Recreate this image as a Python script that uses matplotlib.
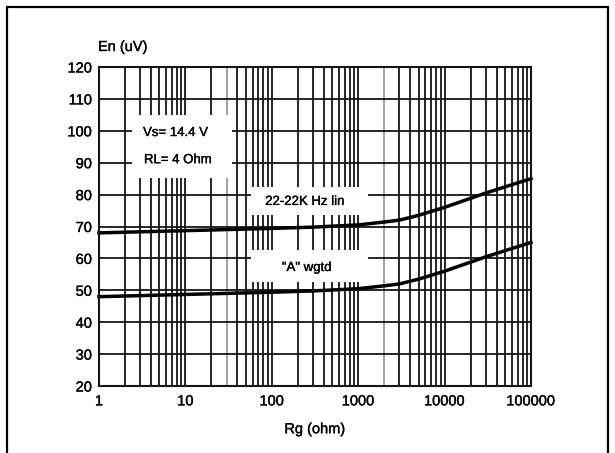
import numpy as np
import matplotlib
matplotlib.use("Agg")
import matplotlib.pyplot as plt
import matplotlib.patheffects as pe
from matplotlib.patches import Rectangle

plt.rcParams.update({
    "font.family": ["Liberation Sans", "DejaVu Sans"],
    "font.size": 10,
})

# curve data
rg = [1, 10, 100, 300, 1000, 2000, 3000, 5000, 10000, 30000, 100000]
en_lin = [68, 68.7, 69.4, 69.8, 70.5, 71.4, 72, 73.5, 76, 80.5, 85]
en_awgt = [48, 48.7, 49.4, 49.8, 50.5, 51.4, 52, 53.5, 56, 60.5, 65]

x_ticks = [1, 10, 100, 1000, 10000, 100000]
x_ticklabels = ["1", "10", "100", "1000", "10000", "100000"]
y_ticks = list(range(20, 121, 10))
grey_lines = [30, 2000]

# slightly heavier text, like the scanned original
heavy = [pe.withStroke(linewidth=0.25, foreground="black")]

fig = plt.figure(figsize=(6.15, 4.53), dpi=100)
ax = fig.add_axes([99 / 615, 1 - 386 / 453, 432 / 615, 319 / 453])

ax.set_xscale("log")
ax.set_xlim(1, 100000)
ax.set_ylim(20, 120)

# grid lines, drawn by hand so a couple can be grey like the scan
for dec in [1, 10, 100, 1000, 10000]:
    for m in range(1, 10):
        xv = dec * m
        if xv <= 1 or xv >= 100000:
            continue
        col = "#9a9a9a" if xv in grey_lines else "#151515"
        ax.axvline(xv, color=col, lw=1.3, zorder=1)
for yv in y_ticks[1:-1]:
    ax.axhline(yv, color="#151515", lw=1.3, zorder=1)

# white boxes behind the annotations
for (x0, y0, w, h) in [(0.076, 0.652, 0.232, 0.198),
                       (0.352, 0.536, 0.271, 0.088),
                       (0.352, 0.326, 0.271, 0.100)]:
    ax.add_patch(Rectangle((x0, y0), w, h, transform=ax.transAxes,
                           facecolor="white", edgecolor="none", zorder=2))

ax.plot(rg, en_lin, color="black", lw=2.5, zorder=4, clip_on=False)
ax.plot(rg, en_awgt, color="black", lw=2.5, zorder=4, clip_on=False)

notes = [
    (0.102, 0.793, "Vs= 14.4 V", "left"),
    (0.104, 0.708, "RL= 4 Ohm", "left"),
    (0.477, 0.577, "22-22K Hz lin", "center"),
    (0.481, 0.370, "\"A\" wgtd", "center"),
]
for tx, ty, s, ha in notes:
    ax.text(tx, ty, s, transform=ax.transAxes, fontsize=9.5, ha=ha,
            va="center", zorder=5, path_effects=heavy)

ax.set_xticks(x_ticks)
ax.set_xticklabels(x_ticklabels)
ax.xaxis.set_minor_locator(matplotlib.ticker.NullLocator())
ax.set_yticks(y_ticks)
ax.tick_params(axis="both", length=0, labelsize=10.5)
ax.tick_params(axis="y", pad=5)
ax.tick_params(axis="x", pad=6)
for lbl in ax.get_xticklabels() + ax.get_yticklabels():
    lbl.set_path_effects(heavy)
for s in ax.spines.values():
    s.set_linewidth(1.5)
    s.set_color("#151515")
    s.set_zorder(6)

ax.set_xlabel("Rg (ohm)", fontsize=10.5, labelpad=10, path_effects=heavy)
fig.text(98 / 615, 1 - 47 / 453, "En (uV)", fontsize=10.5, ha="left",
         va="center", path_effects=heavy)

# outer frame of the figure
fig.patches.append(Rectangle((7 / 615, -0.05), 601 / 615, 1.05 - 7 / 453,
                             transform=fig.transFigure, fill=False,
                             edgecolor="black", lw=1.6))

fig.savefig("out.png", dpi=100)
